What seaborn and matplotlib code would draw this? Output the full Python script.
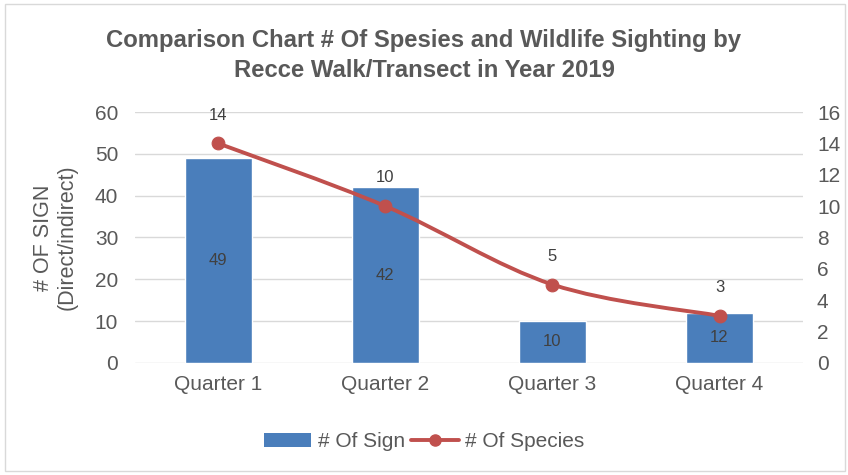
import numpy as np
import pandas as pd
import matplotlib
matplotlib.use('Agg')
import matplotlib.pyplot as plt
from matplotlib.path import Path
from matplotlib.patches import PathPatch, Patch, Rectangle
from matplotlib.lines import Line2D
import seaborn as sns

# Data
quarters = ['Quarter 1', 'Quarter 2', 'Quarter 3', 'Quarter 4']
num_sign = [49, 42, 10, 12]
num_species = [14, 10, 5, 3]

sign_ticks = [0, 10, 20, 30, 40, 50, 60]
species_ticks = [0, 2, 4, 6, 8, 10, 12, 14, 16]

bar_color = '#4A7EBB'
line_color = '#C0504D'
text_color = '#595959'

sns.set_theme(style='white')
plt.rcParams['font.family'] = ['Liberation Sans', 'DejaVu Sans']

df = pd.DataFrame({'Quarter': quarters, 'Sign': num_sign, 'Species': num_species})

fig = plt.figure(figsize=(8.48, 4.75), dpi=100)
ax = fig.add_axes([0.159, 0.236, 0.788, 0.528])

sns.barplot(data=df, x='Quarter', y='Sign', color=bar_color, width=0.4,
            saturation=1, ax=ax)
ax.set_ylim(0, 60)
ax.set_yticks(sign_ticks)
ax.set_xlim(-0.5, len(quarters) - 0.5)
ax.grid(axis='y', color='#D9D9D9', linewidth=1)
ax.set_axisbelow(True)
for s in ax.spines.values():
    s.set_visible(False)
ax.tick_params(axis='both', length=0, labelsize=15, labelcolor=text_color)
ax.tick_params(axis='x', pad=9)
ax.tick_params(axis='y', pad=12)
ax.set_xlabel('')
ax.set_ylabel('# OF SIGN\n(Direct/indirect)', fontsize=15.5, color=text_color,
              labelpad=12, linespacing=1.2)
ax.bar_label(ax.containers[0], label_type='center', fontsize=12, color='#404040')

ax2 = ax.twinx()
ax2.set_ylim(0, 16)
ax2.set_yticks(species_ticks)
for s in ax2.spines.values():
    s.set_visible(False)
ax2.tick_params(axis='y', length=0, labelsize=15, labelcolor=text_color, pad=10)

# smoothed line (Catmull-Rom as cubic bezier, like Excel's smooth line)
xs = np.arange(len(quarters), dtype=float)
ys = np.array(num_species, dtype=float)
verts = [(xs[0], ys[0])]
codes = [Path.MOVETO]
for i in range(len(xs) - 1):
    p0 = np.array([xs[max(i - 1, 0)], ys[max(i - 1, 0)]])
    p1 = np.array([xs[i], ys[i]])
    p2 = np.array([xs[i + 1], ys[i + 1]])
    p3 = np.array([xs[min(i + 2, len(xs) - 1)], ys[min(i + 2, len(xs) - 1)]])
    c1 = p1 + (p2 - p0) / 6
    c2 = p2 - (p3 - p1) / 6
    verts += [tuple(c1), tuple(c2), tuple(p2)]
    codes += [Path.CURVE4] * 3
ax2.add_patch(PathPatch(Path(verts, codes), facecolor='none', edgecolor=line_color,
                        linewidth=2.8, capstyle='round', zorder=3))
sns.scatterplot(x=xs, y=ys, color=line_color, s=85, edgecolor=line_color,
                zorder=4, ax=ax2)
for x, y in zip(xs, ys):
    ax2.annotate(f'{int(y)}', (x, y), xytext=(0, 15), textcoords='offset points',
                 ha='center', va='bottom', fontsize=12, color='#404040')
ax2.set_xlim(-0.5, len(quarters) - 0.5)

fig.suptitle('Comparison Chart # Of Spesies and Wildlife Sighting by\n'
             'Recce Walk/Transect in Year 2019', y=0.94, fontsize=17.2,
             fontweight='bold', color=text_color, linespacing=1.4)

handles = [Patch(facecolor=bar_color, edgecolor='none'),
           Line2D([0], [0], color=line_color, linewidth=2.8, marker='o', markersize=8)]
fig.legend(handles, ['# Of Sign', '# Of Species'], loc='center',
           bbox_to_anchor=(0.5, 0.07), ncol=2, frameon=False, fontsize=15,
           labelcolor=text_color, handlelength=2.3, handletextpad=0.3,
           columnspacing=0.3)

fig.patches.append(Rectangle((0.006, 0.008), 0.99, 0.984, transform=fig.transFigure,
                             fill=False, edgecolor='#D9D9D9', linewidth=1))

fig.savefig('out.png', dpi=100)
